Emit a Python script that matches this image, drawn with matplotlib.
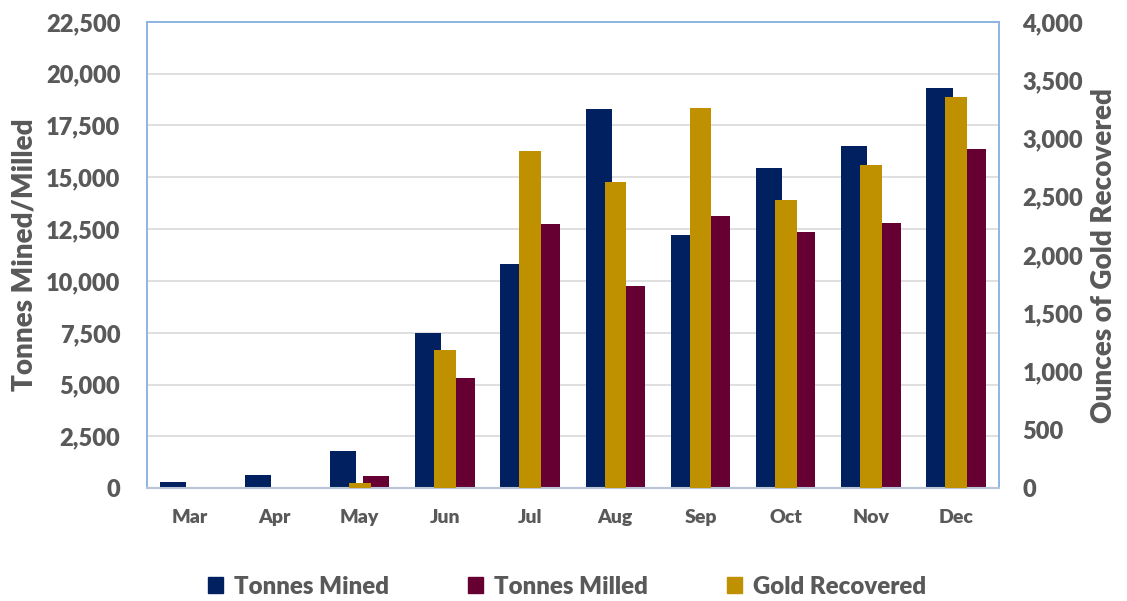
import matplotlib
matplotlib.use("Agg")
import matplotlib.pyplot as plt
from matplotlib.patches import Patch
from matplotlib.ticker import FuncFormatter, MultipleLocator
import numpy as np

months = ["Mar", "Apr", "May", "Jun", "Jul", "Aug", "Sep", "Oct", "Nov", "Dec"]
tonnes_mined = [290, 630, 1790, 7470, 10810, 18300, 12230, 15440, 16520, 19290]
tonnes_milled = [0, 0, 610, 5300, 12740, 9740, 13120, 12370, 12780, 16350]
gold_recovered = [0, 0, 43, 1186, 2889, 2626, 3258, 2469, 2775, 3355]

NAVY = "#002060"
MAROON = "#660033"
GOLD = "#BF9000"
TXT = "#595959"

WT = 'heavy'
plt.rcParams['font.family'] = ['Lato', 'DejaVu Sans']
plt.rcParams['font.weight'] = WT

fig = plt.figure(figsize=(11.27, 6.01), dpi=100)
ax = fig.add_axes([0.1302, 0.1875, 0.8862 - 0.1302, 0.9637 - 0.1875])
ax2 = ax.twinx()

x = np.arange(len(months))
w = 0.306
off = 0.195
ax.bar(x - off, tonnes_mined, width=w, color=NAVY, zorder=3)
ax.bar(x + off, tonnes_milled, width=w, color=MAROON, zorder=3)
ax2.bar(x, gold_recovered, width=0.253, color=GOLD, zorder=3)

ax.set_xlim(-0.5, len(months) - 0.5)
ax.set_ylim(0, 22500)
ax2.set_ylim(0, 4000)
ax.yaxis.set_major_locator(MultipleLocator(2500))
ax2.yaxis.set_major_locator(MultipleLocator(500))
fmt = FuncFormatter(lambda v, p: f"{int(v):,}")
ax.yaxis.set_major_formatter(fmt)
ax2.yaxis.set_major_formatter(fmt)

ax.grid(axis='y', color='#D9D9D9', linewidth=1.2, zorder=0)
ax.set_axisbelow(True)

ax.set_xticks(x)
ax.set_xticklabels(months, fontweight=WT)
ax.tick_params(axis='x', length=0, pad=15, labelsize=14, labelcolor=TXT)
ax.tick_params(axis='y', length=0, pad=19, labelsize=17, labelcolor=TXT)
ax2.tick_params(axis='y', length=0, pad=17, labelsize=17, labelcolor=TXT)
for lab in ax.get_yticklabels() + ax2.get_yticklabels():
    lab.set_fontweight(WT)

for a in (ax, ax2):
    for s in ('left', 'right', 'top'):
        a.spines[s].set_color('#8DB4E2')
        a.spines[s].set_linewidth(1.2)
    a.spines['bottom'].set_color('#B9C4D6')
    a.spines['bottom'].set_linewidth(1.5)

ax.set_ylabel("Tonnes Mined/Milled", fontsize=20, color=TXT, fontweight=WT, labelpad=6)
ax2.set_ylabel("Ounces of Gold Recovered", fontsize=20, color=TXT, fontweight=WT, labelpad=6)

handles = [Patch(color=NAVY, label="Tonnes Mined"),
           Patch(color=MAROON, label="Tonnes Milled"),
           Patch(color=GOLD, label="Gold Recovered")]
fig.legend(handles=handles, loc='center', bbox_to_anchor=(0.503, 0.024), ncol=3,
           frameon=False, labelcolor=TXT, handlelength=0.62,
           handleheight=0.62, handletextpad=0.45, columnspacing=3.3,
           prop={'family': ['Lato', 'DejaVu Sans'], 'weight': WT, 'size': 17.3})

fig.savefig("out.png", dpi=100)
